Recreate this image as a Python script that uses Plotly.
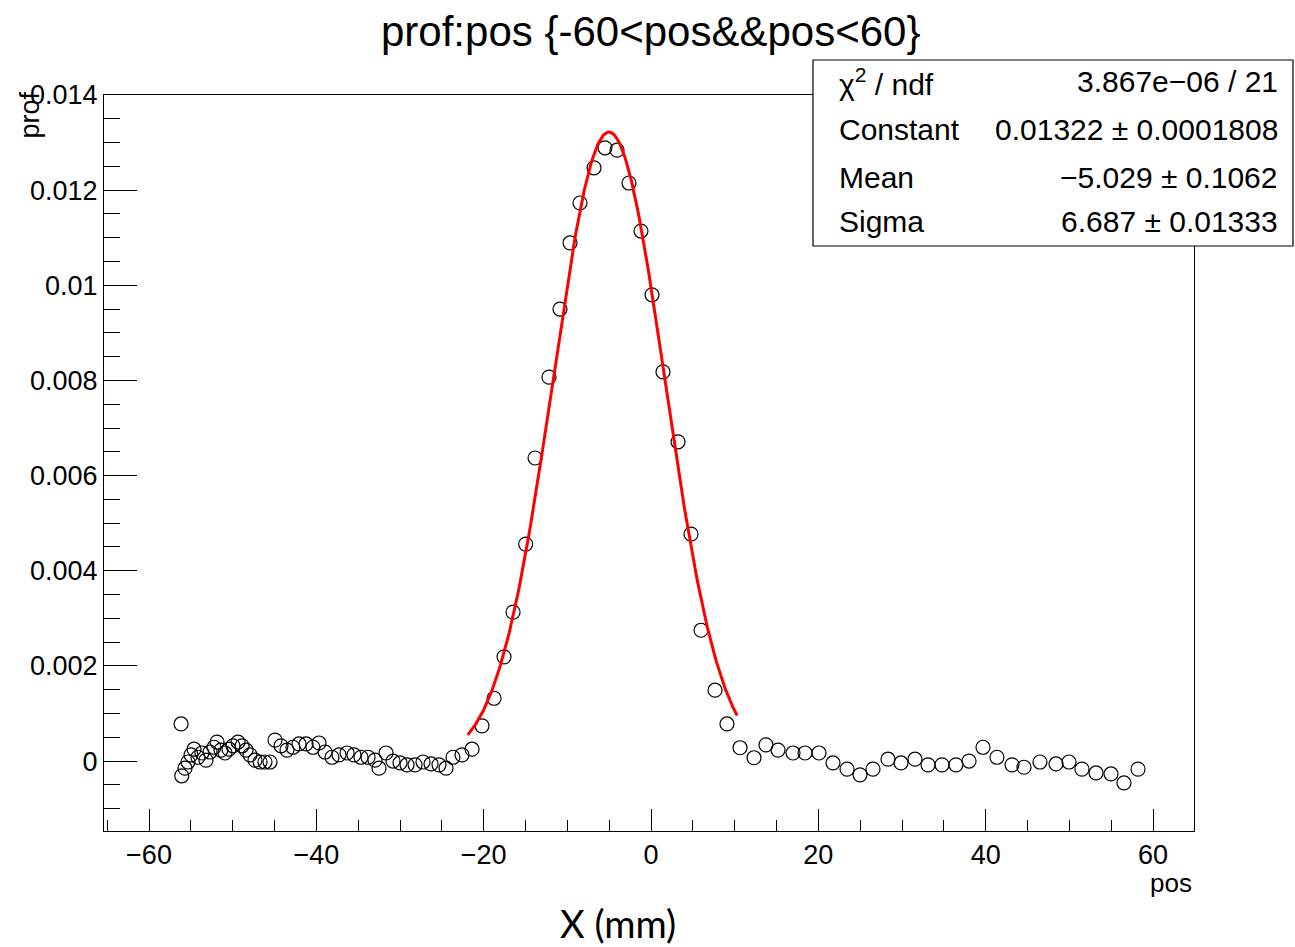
import numpy as np
import plotly.graph_objects as go

# ---------------- data ----------------
pos = [-56.17, -56.09, -55.70, -55.34, -54.98, -54.62, -54.15, -53.67, -53.19, -52.71,
       -52.23, -51.87, -51.40, -50.92, -50.44, -49.96, -49.36, -48.88, -48.40, -47.93,
       -47.33, -46.73, -46.14, -45.54, -44.94, -44.22, -43.51, -42.79, -42.07, -41.23,
       -40.40, -39.68, -38.96, -38.13, -37.29, -36.33, -35.50, -34.66, -33.82, -32.99,
       -32.51, -31.67, -30.84, -30.00, -29.16, -28.20, -27.25, -26.29, -25.34, -24.50,
       -23.67, -22.59, -21.39,
       -20.20, -18.76, -17.57, -16.49, -14.98, -13.86, -12.19, -10.88, -9.68, -8.49,
       -6.81, -5.50, -4.06, -2.63, -1.20, 0.12, 1.43, 3.23, 4.78, 5.98, 7.65, 9.08,
       10.64, 12.31, 13.74, 15.18, 16.97, 18.41, 20.08, 21.75, 23.43, 24.98,
       26.53, 28.33, 29.88, 31.55, 33.11, 34.78, 36.45, 38.01, 39.68, 41.35,
       43.15, 44.58, 46.49, 48.41, 49.96, 51.51, 53.19, 54.98, 56.53, 58.21]

prof = [0.00078, -0.00031, -0.00015, -0.00002, 0.00013, 0.00025, 0.00008, 0.00017, 0.00002, 0.00019,
        0.00029, 0.00040, 0.00023, 0.00017, 0.00025, 0.00032, 0.00040, 0.00032, 0.00023, 0.00013,
        0.00002, -0.00002, -0.00002, -0.00002, 0.00044, 0.00032, 0.00023, 0.00029, 0.00036, 0.00036,
        0.00029, 0.00038, 0.00019, 0.00008, 0.00013, 0.00017, 0.00013, 0.00008, 0.00008, 0.00002,
        -0.00015, 0.00017, 0.00000, -0.00004, -0.00008, -0.00008, -0.00002, -0.00006, -0.00008, -0.00015,
        0.00008, 0.00013, 0.00025,
        0.00074, 0.00132, 0.00219, 0.00313, 0.00456, 0.00637, 0.00807, 0.00950, 0.01089, 0.01173,
        0.01247, 0.01289, 0.01284, 0.01215, 0.01114, 0.00980, 0.00818, 0.00671, 0.00477, 0.00275,
        0.00149, 0.00078,
        0.00028, 0.00007, 0.00034, 0.00023, 0.00017, 0.00017, 0.00017, -0.00004, -0.00017, -0.00029,
        -0.00017, 0.00004, -0.00004, 0.00004, -0.00008, -0.00008, -0.00008, 0.00000, 0.00029, 0.00008,
        -0.00008, -0.00013, -0.00002, -0.00006, -0.00002, -0.00017, -0.00025, -0.00027, -0.00046, -0.00017]

# Gaussian fit results (from the stats box)
fit_constant = 0.01322
fit_constant_err = 0.0001808
fit_mean = -5.029
fit_mean_err = 0.1062
fit_sigma = 6.687
fit_sigma_err = 0.01333
fit_chi2_text = "3.867e\u221206"
fit_ndf = 21
fit_range = [-21.9, 10.3]

x_tick_vals = [-60, -40, -20, 0, 20, 40, 60]
y_tick_vals = [0, 0.002, 0.004, 0.006, 0.008, 0.01, 0.012, 0.014]
y_tick_text = ["0", "0.002", "0.004", "0.006", "0.008", "0.01", "0.012", "0.014"]

# ---------------- layout geometry ----------------
W, H = 1295, 947
L, R, T, B = 104, 1194, 95, 831  # plot-area pixel edges
PW, PH = R - L, B - T


def px(x):
    return (x - L) / PW


def py(y):
    return (B - y) / PH


FONT = "Liberation Sans, Arial, Helvetica, sans-serif"

fit_x = np.linspace(fit_range[0], fit_range[1], 300)
fit_y = fit_constant * np.exp(-0.5 * ((fit_x - fit_mean) / fit_sigma) ** 2)

fig = go.Figure()
fig.add_trace(go.Scatter(
    x=pos, y=prof, mode="markers",
    marker=dict(symbol="circle-open", size=14, color="black", line=dict(width=1.2, color="black")),
    showlegend=False, hoverinfo="x+y"))
fig.add_trace(go.Scatter(
    x=fit_x, y=fit_y, mode="lines",
    line=dict(color="#ff0000", width=3), showlegend=False))

axis_common = dict(showgrid=False, zeroline=False, showline=True, linecolor="black", linewidth=1,
                   mirror=True, ticks="inside", tickcolor="black", tickwidth=1,
                   tickfont=dict(family=FONT, size=27, color="black"))

fig.update_xaxes(range=[-65.38, 64.9], tickmode="array", tickvals=x_tick_vals,
                 ticktext=[("\u2212" + str(-v)) if v < 0 else str(v) for v in x_tick_vals],
                 ticklen=22,
                 minor=dict(tickmode="linear", tick0=0, dtick=5, ticklen=11, ticks="inside",
                            tickcolor="black", tickwidth=1),
                 **axis_common)
fig.update_yaxes(range=[-0.00147, 0.014], tickmode="array", tickvals=y_tick_vals, ticktext=y_tick_text,
                 ticklen=33,
                 minor=dict(tickmode="linear", tick0=0, dtick=0.0005, ticklen=16, ticks="inside",
                            tickcolor="black", tickwidth=1),
                 **axis_common)

ann = []
# title
ann.append(dict(text="prof:pos {-60<pos&&pos<60}", x=px(650), y=py(31), xref="paper", yref="paper",
                xanchor="center", yanchor="middle", showarrow=False,
                font=dict(family=FONT, size=42, color="black")))
# axis titles
ann.append(dict(text="pos", x=px(1194), y=py(883), xref="paper", yref="paper",
                xanchor="right", yanchor="middle", showarrow=False,
                font=dict(family=FONT, size=26, color="black")))
ann.append(dict(text="prof", x=px(30), y=py(90), xref="paper", yref="paper", textangle=-90,
                xanchor="center", yanchor="top", showarrow=False,
                font=dict(family=FONT, size=27, color="black")))
ann.append(dict(text="X (mm)", x=px(618), y=py(923), xref="paper", yref="paper",
                xanchor="center", yanchor="middle", showarrow=False,
                font=dict(family="Lato, Open Sans, sans-serif", size=38, color="black")))

# stats box
stat_rows = [
    ("\u03c7<sup>2</sup> / ndf", f"{fit_chi2_text} / {fit_ndf}"),
    ("Constant", f"{fit_constant} \u00b1 {fit_constant_err:.7f}"),
    ("Mean", f"{fit_mean:.3f} \u00b1 {fit_mean_err}".replace("-", "\u2212")),
    ("Sigma", f"{fit_sigma} \u00b1 {fit_sigma_err}"),
]
row_y = [82, 130, 177, 222]
for (lab, val), ry in zip(stat_rows, row_y):
    ann.append(dict(text=lab, x=px(837), y=py(ry), xref="paper", yref="paper",
                    xanchor="left", yanchor="middle", showarrow=False,
                    font=dict(family=FONT, size=30, color="black")))
    ann.append(dict(text=val, x=px(1280), y=py(ry), xref="paper", yref="paper",
                    xanchor="right", yanchor="middle", showarrow=False,
                    font=dict(family=FONT, size=30, color="black")))

shapes = [
    dict(type="rect", xref="paper", yref="paper", x0=px(813), x1=px(1293), y0=py(246), y1=py(60),
         line=dict(color="black", width=1.2), fillcolor="white", layer="above"),
]

fig.update_layout(
    width=W, height=H, autosize=False,
    margin=dict(l=L, r=W - R, t=T, b=H - B, pad=0),
    paper_bgcolor="white", plot_bgcolor="white",
    annotations=ann, shapes=shapes,
    font=dict(family=FONT, color="black"),
)

fig.write_html("out.html")
